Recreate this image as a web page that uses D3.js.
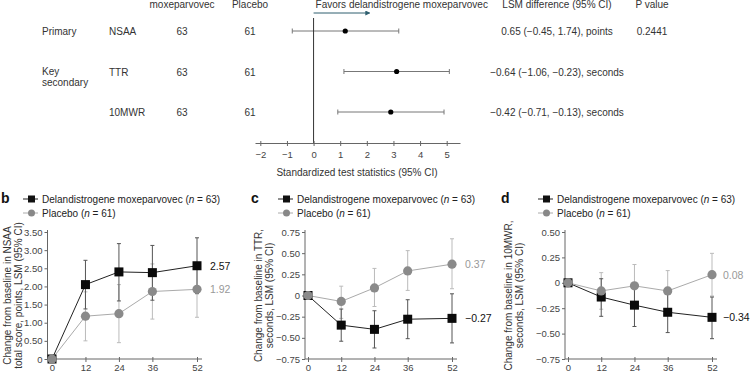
<!DOCTYPE html>
<html>
<head>
<meta charset="utf-8">
<script src="https://cdn.jsdelivr.net/npm/d3@7"></script>
<style>
  body { margin: 0; background: #fff; }
  svg { font-family: 'Liberation Sans', Arial, sans-serif; }
  .axis text { font-size: 9.5px; fill: #444; }
  .axis line, .axis path { stroke: #666; }
</style>
</head>
<body>
<div id="chart"></div>
<script>
// forest plot (panel a)
const outcomes = ['NSAA', 'TTR', '10MWR'];
const nDeland = [63, 63, 63];
const nPlacebo = [61, 61, 61];
const testStat = [1.19, 3.12, 2.90];
const testLow = [-0.80, 1.14, 0.91];
const testHigh = [3.20, 5.10, 4.90];
const lsmText = ['0.65 (−0.45, 1.74), points', '−0.64 (−1.06, −0.23), seconds', '−0.42 (−0.71, −0.13), seconds'];
const pValues = ['0.2441', '', ''];
const forestTicks = [-2, -1, 0, 1, 2, 3, 4, 5];

// time course panels
const weeks = [0, 12, 24, 36, 52];

const nsaaDeland = [0, 2.05, 2.40, 2.38, 2.57];
const nsaaDelandLo = [0, 1.38, 1.60, 1.62, 1.80];
const nsaaDelandHi = [0, 2.72, 3.18, 3.13, 3.34];
const nsaaPlacebo = [0, 1.18, 1.25, 1.86, 1.92];
const nsaaPlaceboLo = [0, 0.50, 0.45, 1.10, 1.15];
const nsaaPlaceboHi = [0, 1.85, 2.05, 2.62, 2.66];
const nsaaTicks = [0, 0.5, 1, 1.5, 2, 2.5, 3, 3.5];

const ttrDeland = [0, -0.35, -0.40, -0.28, -0.27];
const ttrDelandLo = [0, -0.54, -0.62, -0.51, -0.56];
const ttrDelandHi = [0, -0.16, -0.18, -0.05, 0.02];
const ttrPlacebo = [0, -0.07, 0.09, 0.29, 0.37];
const ttrPlaceboLo = [0, -0.27, -0.13, 0.06, 0.08];
const ttrPlaceboHi = [0, 0.11, 0.32, 0.53, 0.67];
const ttrTicks = [-0.75, -0.5, -0.25, 0, 0.25, 0.5, 0.75];

const mwrDeland = [0, -0.14, -0.22, -0.29, -0.34];
const mwrDelandLo = [0, -0.33, -0.43, -0.49, -0.55];
const mwrDelandHi = [0, 0.04, -0.01, -0.09, -0.14];
const mwrPlacebo = [0, -0.08, -0.03, -0.08, 0.08];
const mwrPlaceboLo = [0, -0.26, -0.24, -0.28, -0.13];
const mwrPlaceboHi = [0, 0.10, 0.18, 0.12, 0.29];
const mwrTicks = [-0.75, -0.5, -0.25, 0, 0.25, 0.5];

const svg = d3.select('#chart').append('svg')
    .attr('width', 750)
    .attr('height', 375);

const minus = (s) => s.replace('-', '−');
const FS = 10;

// ---- panel a ----
const fx = d3.scaleLinear().domain([-2.2, 5.5]).range([255, 460]);
const fy = d3.scalePoint().domain(outcomes).range([31, 112]);
const fa = svg.append('g');

function label(g, x, y, txt, anchor) {
  return g.append('text').attr('x', x).attr('y', y).attr('text-anchor', anchor || 'start')
      .attr('font-size', FS).attr('fill', '#333').text(txt);
}

// header row (top of the figure is cropped in the original)
label(fa, 182, 8, 'moxeparvovec', 'middle');
label(fa, 250, 8, 'Placebo', 'middle');
label(fa, fx(0) + 2, 8, 'Favors delandistrogene moxeparvovec');
label(fa, 557, 8, 'LSM difference (95% CI)', 'middle');
label(fa, 652, 8, 'P value', 'middle');

svg.append('defs').append('marker')
    .attr('id', 'arr').attr('viewBox', '0 0 6 6').attr('refX', 5).attr('refY', 3)
    .attr('markerWidth', 5).attr('markerHeight', 5).attr('orient', 'auto')
    .append('path').attr('d', 'M0,0L6,3L0,6Z').attr('fill', '#2f5f6f');
fa.append('line').attr('x1', fx(0)).attr('x2', fx(2.1)).attr('y1', 13).attr('y2', 13)
    .attr('stroke', '#2f5f6f').attr('stroke-width', 1).attr('marker-end', 'url(#arr)');

label(fa, 42, fy('NSAA') + 4, 'Primary');
label(fa, 42, fy('TTR') + 3, 'Key');
label(fa, 42, fy('TTR') + 14, 'secondary');

outcomes.forEach((o, i) => {
  const y = fy(o);
  label(fa, 109, y + 4, o);
  label(fa, 182, y + 4, nDeland[i], 'middle');
  label(fa, 250, y + 4, nPlacebo[i], 'middle');
  label(fa, 557, y + 4, lsmText[i], 'middle');
  if (pValues[i]) label(fa, 652, y + 4, pValues[i], 'middle');

  fa.append('line').attr('x1', fx(testLow[i])).attr('x2', fx(testHigh[i])).attr('y1', y).attr('y2', y)
      .attr('stroke', '#777').attr('stroke-width', 1);
  [testLow[i], testHigh[i]].forEach((v) => {
    fa.append('line').attr('x1', fx(v)).attr('x2', fx(v)).attr('y1', y - 2.5).attr('y2', y + 2.5)
        .attr('stroke', '#777').attr('stroke-width', 1);
  });
  fa.append('circle').attr('cx', fx(testStat[i])).attr('cy', y).attr('r', 2.6).attr('fill', '#000');
});

fa.append('line').attr('x1', fx(0)).attr('x2', fx(0)).attr('y1', 18).attr('y2', 143)
    .attr('stroke', '#333').attr('stroke-width', 1);

const fAxis = fa.append('g').attr('class', 'axis')
    .attr('transform', 'translate(0,143)')
    .call(d3.axisBottom(fx).tickValues(forestTicks).tickSize(3).tickSizeOuter(0)
        .tickFormat((d) => minus(String(d))));
fAxis.selectAll('.tick line').attr('y1', -2).attr('y2', 3);
fAxis.selectAll('.tick text').attr('dy', '0.9em');
label(fa, 357, 176, 'Standardized test statistics (95% CI)', 'middle');

// ---- time course panels ----
const Y0 = 359; // x axis
const YT = 232; // top tick

function drawPanel(cfg) {
  const g = svg.append('g');
  const x = d3.scaleLinear().domain([0, 52]).range(cfg.xRange);
  const y = d3.scaleLinear().domain(cfg.yDomain).range([Y0, YT]);

  g.append('text').attr('x', cfg.letterX).attr('y', 203).attr('font-size', 14)
      .attr('font-weight', 'bold').attr('fill', '#111').text(cfg.letter);

  // legend
  const lx = cfg.legendX;
  g.append('line').attr('x1', lx - 19).attr('x2', lx - 4).attr('y1', 199).attr('y2', 199).attr('stroke', '#222');
  g.append('rect').attr('x', lx - 14).attr('y', 195.5).attr('width', 7).attr('height', 7).attr('fill', '#111');
  const t1 = g.append('text').attr('x', lx).attr('y', 202.5).attr('font-size', FS).attr('fill', '#222');
  t1.append('tspan').text('Delandistrogene moxeparvovec (');
  t1.append('tspan').attr('font-style', 'italic').text('n');
  t1.append('tspan').text(' = 63)');
  g.append('line').attr('x1', lx - 19).attr('x2', lx - 4).attr('y1', 213).attr('y2', 213).attr('stroke', '#aaa');
  g.append('circle').attr('cx', lx - 10.5).attr('cy', 213).attr('r', 3.5).attr('fill', '#888');
  const t2 = g.append('text').attr('x', lx).attr('y', 216.5).attr('font-size', FS).attr('fill', '#222');
  t2.append('tspan').text('Placebo (');
  t2.append('tspan').attr('font-style', 'italic').text('n');
  t2.append('tspan').text(' = 61)');

  // axes
  const yAxis = g.append('g').attr('class', 'axis')
      .attr('transform', `translate(${cfg.axisX},0)`)
      .call(d3.axisLeft(y).tickValues(cfg.yTicks).tickSize(3).tickSizeOuter(0)
          .tickFormat((d) => d === 0 ? '0' : minus(d3.format('.2f')(d))));
  yAxis.select('.domain').remove();
  yAxis.selectAll('.tick text').attr('x', -5);
  g.append('line').attr('x1', cfg.axisX).attr('x2', cfg.axisX).attr('y1', YT - 2).attr('y2', Y0)
      .attr('stroke', '#666');

  const xAxis = g.append('g').attr('class', 'axis')
      .attr('transform', `translate(0,${Y0})`)
      .call(d3.axisBottom(x).tickValues(weeks).tickSize(3).tickSizeOuter(0));
  xAxis.select('.domain').remove();
  xAxis.selectAll('.tick line').attr('y1', -2).attr('y2', 3);
  xAxis.selectAll('.tick text').attr('y', 5).attr('dy', '0.71em');
  g.append('line').attr('x1', cfg.axisX).attr('x2', x(52) + 5).attr('y1', Y0).attr('y2', Y0)
      .attr('stroke', '#666');

  const series = [
    {v: cfg.deland, lo: cfg.delandLo, hi: cfg.delandHi, err: '#555', line: '#222'},
    {v: cfg.placebo, lo: cfg.placeboLo, hi: cfg.placeboHi, err: '#bbb', line: '#aaa'},
  ];

  // error bars (placebo first, deland over it)
  [series[1], series[0]].forEach((s) => {
    weeks.forEach((w, i) => {
      if (i === 0) return;
      g.append('line').attr('x1', x(w)).attr('x2', x(w)).attr('y1', y(s.lo[i])).attr('y2', y(s.hi[i]))
          .attr('stroke', s.err).attr('stroke-width', 1);
      [s.lo[i], s.hi[i]].forEach((v) => {
        g.append('line').attr('x1', x(w) - 2).attr('x2', x(w) + 2).attr('y1', y(v)).attr('y2', y(v))
            .attr('stroke', s.err).attr('stroke-width', 1);
      });
    });
  });

  const line = d3.line().x((d, i) => x(weeks[i])).y((d) => y(d));
  series.forEach((s) => {
    g.append('path').datum(s.v).attr('d', line).attr('fill', 'none')
        .attr('stroke', s.line).attr('stroke-width', 1);
  });

  g.selectAll('rect.deland').data(cfg.deland).join('rect').attr('class', 'deland')
      .attr('x', (d, i) => x(weeks[i]) - 4.5).attr('y', (d) => y(d) - 4.5)
      .attr('width', 9).attr('height', 9).attr('fill', '#0a0a0a');
  g.selectAll('circle.placebo').data(cfg.placebo).join('circle').attr('class', 'placebo')
      .attr('cx', (d, i) => x(weeks[i])).attr('cy', (d) => y(d)).attr('r', 4.6)
      .attr('fill', '#8a8a8a');

  const last = weeks.length - 1;
  g.append('text').attr('x', x(52) + cfg.endGap).attr('y', y(cfg.deland[last]) + 4)
      .attr('font-size', 10.5).attr('fill', '#111').text(minus(d3.format('.2f')(cfg.deland[last])));
  g.append('text').attr('x', x(52) + cfg.endGap).attr('y', y(cfg.placebo[last]) + 4)
      .attr('font-size', 10.5).attr('fill', '#999').text(minus(d3.format('.2f')(cfg.placebo[last])));

  // y title
  const tt = g.append('text').attr('font-size', FS).attr('fill', '#333')
      .attr('text-anchor', 'middle')
      .attr('transform', `translate(${cfg.titleX},${(Y0 + YT) / 2}) rotate(-90)`);
  tt.append('tspan').attr('x', 0).attr('dy', '0.35em').text(cfg.title[0]);
  tt.append('tspan').attr('x', 0).attr('dy', '1.15em').text(cfg.title[1]);
}

drawPanel({
  letter: 'b', letterX: 1, legendX: 42, axisX: 47.5, xRange: [52, 197], endGap: 13,
  yDomain: [0, 3.5], yTicks: nsaaTicks, titleX: 7,
  deland: nsaaDeland, delandLo: nsaaDelandLo, delandHi: nsaaDelandHi,
  placebo: nsaaPlacebo, placeboLo: nsaaPlaceboLo, placeboHi: nsaaPlaceboHi,
  title: ['Change from baseline in NSAA', 'total score, points, LSM (95% CI)'],
});
drawPanel({
  letter: 'c', letterX: 251, legendX: 297, axisX: 305, xRange: [308, 452], endGap: 13,
  yDomain: [-0.75, 0.75], yTicks: ttrTicks, titleX: 258,
  deland: ttrDeland, delandLo: ttrDelandLo, delandHi: ttrDelandHi,
  placebo: ttrPlacebo, placeboLo: ttrPlaceboLo, placeboHi: ttrPlaceboHi,
  title: ['Change from baseline in TTR,', 'seconds, LSM (95% CI)'],
});
drawPanel({
  letter: 'd', letterX: 501, legendX: 557, axisX: 565, xRange: [568, 712], endGap: 11,
  yDomain: [-0.75, 0.5], yTicks: mwrTicks, titleX: 508,
  deland: mwrDeland, delandLo: mwrDelandLo, delandHi: mwrDelandHi,
  placebo: mwrPlacebo, placeboLo: mwrPlaceboLo, placeboHi: mwrPlaceboHi,
  title: ['Change from baseline in 10MWR,', 'seconds, LSM (95% CI)'],
});
</script>
</body>
</html>
